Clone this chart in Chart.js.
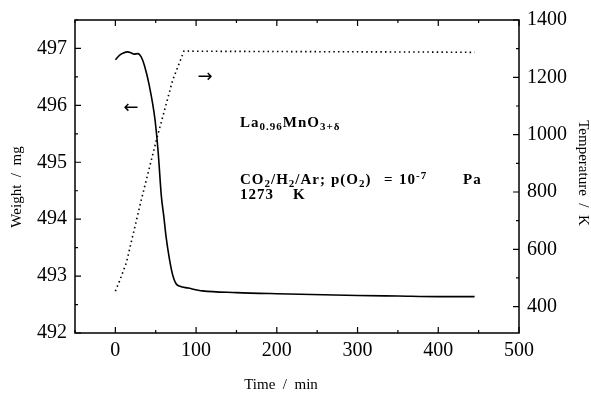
<!DOCTYPE html>
<html>
<head>
<meta charset="utf-8">
<script src="https://cdn.jsdelivr.net/npm/chart.js@4"></script>
<style>
  html, body { margin: 0; padding: 0; background: #fff; }
  #wrap { width: 591px; height: 395px; }
</style>
</head>
<body>
<div id="wrap"><canvas id="grafico"></canvas></div>
<script>
// tempo (min) e peso (mg)
const tempoPeso = [0, 5, 10, 15, 20, 23, 28, 32, 36, 42, 49, 53, 57, 60, 63, 67, 71, 75, 80, 90, 108, 150, 200, 300, 350, 400, 445];
const peso = [496.80, 496.88, 496.92, 496.94, 496.92, 496.90, 496.91, 496.85, 496.70, 496.35, 495.76, 495.18, 494.40, 494.05, 493.67, 493.30, 493.02, 492.87, 492.82, 492.79, 492.74, 492.71, 492.69, 492.66, 492.65, 492.64, 492.64];

// tempo (min) e temperatura (K)
const tempoTemp = [0, 5, 13.6, 32, 51, 71, 85, 100, 200, 300, 400, 445];
const temperatura = [454, 488, 553, 771, 983, 1190, 1292, 1291, 1290, 1289, 1288, 1287];

const ticksX = [0, 100, 200, 300, 400, 500];
const ticksPeso = [492, 493, 494, 495, 496, 497];
const ticksTemp = [400, 600, 800, 1000, 1200, 1400];

const fonte = '"Liberation Serif", "Times New Roman", serif';

function pontos(xs, ys) {
    return xs.map((x, i) => ({ x: x, y: ys[i] }));
}

// caixa, marcas internas, titulos e anotacoes
const moldura = {
    id: 'moldura',
    afterDraw(chart) {
        const ctx = chart.ctx;
        const a = chart.chartArea;
        const sx = chart.scales.x, sy = chart.scales.y, st = chart.scales.y1;
        ctx.save();
        ctx.strokeStyle = '#000';
        ctx.lineWidth = 1.5;
        ctx.strokeRect(a.left, a.top, a.right - a.left, a.bottom - a.top);

        ctx.lineWidth = 1.2;
        ctx.beginPath();
        for (let v = -50; v <= 500; v += 50) {
            const px = sx.getPixelForValue(v);
            const len = v % 100 === 0 ? 6 : 3;
            ctx.moveTo(px, a.bottom); ctx.lineTo(px, a.bottom - len);
            ctx.moveTo(px, a.top); ctx.lineTo(px, a.top + len);
        }
        for (let v = 492; v <= 497.5; v += 0.5) {
            const py = sy.getPixelForValue(v);
            const len = v % 1 === 0 ? 6 : 3;
            ctx.moveTo(a.left, py); ctx.lineTo(a.left + len, py);
        }
        for (let v = 400; v <= 1400; v += 100) {
            const py = st.getPixelForValue(v);
            const len = v % 200 === 0 ? 6 : 3;
            ctx.moveTo(a.right, py); ctx.lineTo(a.right - len, py);
        }
        ctx.stroke();

        ctx.fillStyle = '#000';
        ctx.font = '15px ' + fonte;
        ctx.textAlign = 'center';
        ctx.textBaseline = 'middle';
        ctx.fillText('Time  /  min', 281, 385);

        ctx.save();
        ctx.translate(17, 187);
        ctx.rotate(-Math.PI / 2);
        ctx.fillText('Weight  /  mg', 0, 0);
        ctx.restore();

        ctx.save();
        ctx.translate(583, 173);
        ctx.rotate(Math.PI / 2);
        ctx.fillText('Temperature  /  K', 0, 0);
        ctx.restore();

        // setas
        ctx.font = '18px "DejaVu Sans", sans-serif';
        ctx.fillText('\u2190', 131, 108);
        ctx.fillText('\u2192', 205, 77);

        // texto com subscritos
        ctx.textAlign = 'left';
        ctx.textBaseline = 'alphabetic';
        ctx.letterSpacing = '1px';
        function escreve(partes, x, y) {
            partes.forEach(p => {
                ctx.font = 'bold ' + (p[1] ? 11 : 15) + 'px ' + fonte;
                ctx.fillText(p[0], x, y + (p[1] === 'sub' ? 3 : (p[1] === 'sup' ? -5 : 0)));
                x += ctx.measureText(p[0]).width;
            });
        }
        escreve([['La', null], ['0.96', 'sub'], ['MnO', null], ['3+\u03b4', 'sub']], 240, 127);
        escreve([['CO', null], ['2', 'sub'], ['/H', null], ['2', 'sub'], ['/Ar;', null]], 240, 184);
        escreve([['p(O', null], ['2', 'sub'], [')', null]], 331, 184);
        escreve([['=', null]], 384, 184);
        escreve([['10', null], ['-7', 'sup']], 399, 184);
        escreve([['Pa', null]], 463, 184);
        escreve([['1273', null]], 240, 199);
        escreve([['K', null]], 293, 199);
        ctx.restore();
    }
};

const config = {
    type: 'line',
    data: {
        datasets: [{
            label: 'Weight',
            data: pontos(tempoPeso, peso),
            yAxisID: 'y',
            borderColor: '#000',
            borderWidth: 1.6,
            pointRadius: 0,
            cubicInterpolationMode: 'monotone',
            fill: false
        }, {
            label: 'Temperature',
            data: pontos(tempoTemp, temperatura),
            yAxisID: 'y1',
            borderColor: '#000',
            borderWidth: 1.6,
            borderDash: [1.5, 3.2],
            pointRadius: 0,
            tension: 0,
            fill: false
        }]
    },
    options: {
        responsive: true,
        maintainAspectRatio: false,
        animation: false,
        layout: { padding: { top: 17 } },
        plugins: { legend: { display: false }, tooltip: { enabled: false } },
        scales: {
            x: {
                type: 'linear',
                min: -50, max: 500,
                afterBuildTicks: s => { s.ticks = ticksX.map(v => ({ value: v })); },
                afterFit: s => { s.height = 62; },
                grid: { display: false, drawTicks: false },
                border: { display: false },
                ticks: { color: '#000', padding: 6, maxRotation: 0, callback: v => String(v), font: { family: fonte, size: 20 } }
            },
            y: {
                position: 'left',
                min: 492, max: 497.5,
                afterBuildTicks: s => { s.ticks = ticksPeso.map(v => ({ value: v })); },
                afterFit: s => { s.width = 75; },
                grid: { display: false, drawTicks: false },
                border: { display: false },
                ticks: { color: '#000', padding: 8, callback: v => String(v), font: { family: fonte, size: 20 } }
            },
            y1: {
                position: 'right',
                min: 308, max: 1400,
                afterBuildTicks: s => { s.ticks = ticksTemp.map(v => ({ value: v })); },
                afterFit: s => { s.width = 72; },
                grid: { display: false, drawTicks: false },
                border: { display: false },
                ticks: { color: '#000', padding: 8, callback: v => String(v), font: { family: fonte, size: 20 } }
            }
        }
    },
    plugins: [moldura]
};

const ctx = document.getElementById('grafico').getContext('2d');
window.meuGrafico = new Chart(ctx, config);
</script>
</body>
</html>
